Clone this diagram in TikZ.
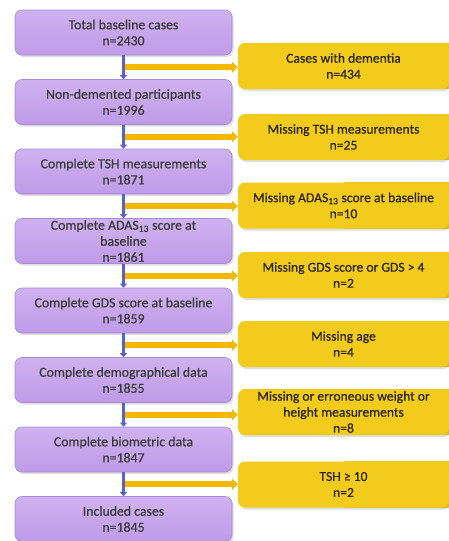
\documentclass[tikz,border=0pt]{standalone}
\usepackage{fontspec}
\setmainfont{Carlito}
\newfontfamily\boxfont{Carlito}[FakeBold=0.5]
\usetikzlibrary{shadows,backgrounds,calc,arrows.meta}
\definecolor{ptop}{HTML}{CFB2F0}
\definecolor{pbot}{HTML}{BF9BE8}
\definecolor{pedge}{HTML}{A888D8}
\definecolor{yfill}{HTML}{F3CB1C}
\definecolor{yarrow}{HTML}{F5B800}
\definecolor{barrow}{HTML}{5A62C6}
\definecolor{ptxt}{HTML}{3A3A3A}
\definecolor{ytxt}{HTML}{2A2410}
\begin{document}
\begin{tikzpicture}[x=1pt,y=-1pt,
  pbox/.style={rectangle, rounded corners=7pt, draw=pedge, line width=0.6pt,
    top color=ptop, bottom color=pbot, minimum width=217pt, minimum height=45pt,
    align=center, font=\boxfont\fontsize{13.8}{16}\selectfont, text=ptxt, inner sep=1pt,
    drop shadow={shadow xshift=1.5pt, shadow yshift=-2pt, opacity=0.25}},
  ybox/.style={rectangle, rounded corners=7pt, fill=yfill, minimum width=211pt,
    minimum height=46pt, align=center, font=\boxfont\fontsize{13.6}{16}\selectfont,
    text=ytxt, inner sep=1pt,
    drop shadow={shadow xshift=1.5pt, shadow yshift=-2pt, opacity=0.25}},
  yext/.style={fill=yfill},
  bline/.style={draw=barrow, line width=3.5pt, -{Triangle[length=4pt,width=7pt]}},
  yline/.style={draw=yarrow, line width=6pt, -{Triangle[length=6pt,width=11pt]}}]
\useasboundingbox (0,0) rectangle (449,541);
% purple boxes
\node[pbox] (p1) at (123.5,32.5) {Total baseline cases\\n=2430};
\node[pbox] (p2) at (123.5,102) {Non-demented participants\\n=1996};
\node[pbox] (p3) at (123.5,171.5) {Complete TSH measurements\\n=1871};
\node[pbox] (p4) at (123.5,241) {Complete ADAS\textsubscript{13} score at\\baseline\\n=1861};
\node[pbox] (p5) at (123.5,310.5) {Complete GDS score at baseline\\n=1859};
\node[pbox] (p6) at (123.5,380) {Complete demographical data\\n=1855};
\node[pbox] (p7) at (123.5,449.5) {Complete biometric data\\n=1847};
\node[pbox] (p8) at (123.5,519) {Included cases\\n=1845};
% yellow boxes
\node[ybox] (y1) at (343.5,66) {Cases with dementia\\n=434};
\node[ybox] (y2) at (343.5,137) {Missing TSH measurements\\n=25};
\node[ybox] (y3) at (343.5,205.5) {Missing ADAS\textsubscript{13} score at baseline\\n=10};
\node[ybox] (y4) at (343.5,275) {Missing GDS score or GDS > 4\\n=2};
\node[ybox] (y5) at (343.5,344) {Missing age\\n=4};
\node[ybox] (y6) at (343.5,412) {Missing or erroneous weight or\\height measurements\\n=8};
\node[ybox] (y7) at (343.5,484.5) {TSH ≥ 10\\n=2};
\begin{pgfonlayer}{background}
\foreach \i in {1,...,7}{
  \fill[yext] (y\i.north) rectangle ([xshift=20pt]y\i.south east);
}
\end{pgfonlayer}
% connectors
\foreach \i/\j in {1/2,2/3,3/4,4/5,5/6,6/7,7/8}{
  \coordinate (m\i) at ($(p\i.south)!0.5!(p\j.north)$);
  \draw[yline] (m\i) -- (m\i -| y\i.west);
  \draw[bline] (p\i.south) -- (p\j.north);
}
\end{tikzpicture}
\end{document}
